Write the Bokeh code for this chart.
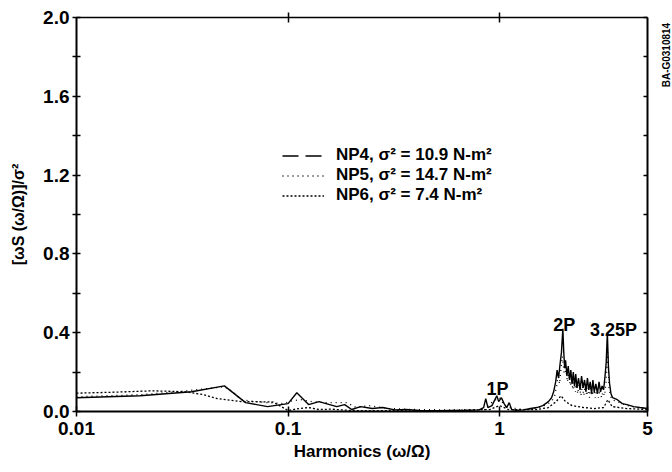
from math import pi

from bokeh.embed import file_html
from bokeh.layouts import row
from bokeh.models import (FixedTicker, Label, Legend, LegendItem, LinearAxis,
                          LogAxis, PrintfTickFormatter)
from bokeh.plotting import figure
from bokeh.resources import INLINE

# ---- spectra: normalised harmonic content vs. frequency ratio ----
np4_x = [0.01, 0.02, 0.035, 0.05, 0.063, 0.08, 0.1, 0.11, 0.125, 0.14, 0.17,
         0.185, 0.2, 0.22, 0.25, 0.28, 0.32, 0.36, 0.42, 0.5, 0.6, 0.7, 0.8,
         0.84, 0.86, 0.88, 0.92, 0.95, 0.97, 0.99, 1.02, 1.05, 1.08, 1.11,
         1.14, 1.2, 1.3, 1.4, 1.5, 1.6, 1.7, 1.76,
         1.80, 1.84, 1.87, 1.90, 1.93, 1.96, 1.99, 2.01, 2.03, 2.05, 2.08,
         2.11, 2.14, 2.17, 2.20, 2.23, 2.26, 2.29, 2.32, 2.36, 2.40, 2.44,
         2.48, 2.52, 2.56, 2.60, 2.64, 2.68, 2.72, 2.76, 2.80, 2.85, 2.90,
         2.95, 3.00, 3.05, 3.10, 3.15, 3.19, 3.23, 3.27, 3.31, 3.36, 3.42,
         3.6, 3.8, 4.0, 4.3, 4.6, 5.0]
np4_y = [0.07, 0.08, 0.10, 0.13, 0.045, 0.025, 0.04, 0.095, 0.035, 0.05, 0.025,
         0.035, 0.01, 0.025, 0.015, 0.02, 0.008, 0.01, 0.005, 0.004, 0.005, 0.006, 0.008,
         0.02, 0.065, 0.02, 0.03, 0.06, 0.08, 0.05, 0.07, 0.04, 0.02, 0.045,
         0.01, 0.006, 0.008, 0.015, 0.02, 0.03, 0.05, 0.07,
         0.10, 0.15, 0.21, 0.17, 0.24, 0.30, 0.42, 0.30, 0.22, 0.26, 0.18,
         0.23, 0.16, 0.21, 0.14, 0.20, 0.13, 0.19, 0.12, 0.17, 0.11, 0.18,
         0.12, 0.16, 0.10, 0.17, 0.11, 0.15, 0.09, 0.16, 0.10, 0.14, 0.09,
         0.15, 0.10, 0.13, 0.11, 0.18, 0.25, 0.40, 0.22, 0.14, 0.09, 0.07,
         0.06, 0.04, 0.035, 0.025, 0.02, 0.015]

np5_x = [0.01, 0.02, 0.03, 0.04, 0.05, 0.055, 0.06, 0.07, 0.08, 0.095, 0.105,
         0.115, 0.13, 0.15, 0.17, 0.19, 0.21, 0.24, 0.3, 0.4, 0.6, 0.85, 0.9,
         0.96, 1.0, 1.05, 1.1, 1.3, 1.5, 1.7, 1.78,
         1.82, 1.86, 1.89, 1.92, 1.95, 1.98, 2.02, 2.06, 2.09, 2.12, 2.16,
         2.19, 2.22, 2.25, 2.28, 2.31, 2.34, 2.38, 2.42, 2.46, 2.50, 2.54,
         2.58, 2.62, 2.66, 2.70, 2.74, 2.78, 2.83, 2.88, 2.93, 2.98, 3.03,
         3.08, 3.13, 3.18, 3.21, 3.25, 3.29, 3.34, 3.40, 3.6, 4.0, 4.5, 5.0]
np5_y = [0.075, 0.085, 0.10, 0.115, 0.125, 0.10, 0.06, 0.05, 0.045, 0.04, 0.055,
         0.06, 0.05, 0.045, 0.045, 0.045, 0.02, 0.03, 0.015, 0.01, 0.008, 0.01, 0.04,
         0.06, 0.07, 0.03, 0.02, 0.01, 0.015, 0.04, 0.06,
         0.08, 0.13, 0.19, 0.14, 0.22, 0.28, 0.19, 0.21, 0.15, 0.19, 0.13,
         0.17, 0.11, 0.16, 0.10, 0.15, 0.09, 0.14, 0.08, 0.13, 0.08, 0.14,
         0.08, 0.12, 0.07, 0.13, 0.08, 0.12, 0.07, 0.12, 0.07, 0.11, 0.07,
         0.10, 0.08, 0.14, 0.22, 0.30, 0.12, 0.08, 0.06, 0.05, 0.03, 0.02, 0.015]

np6_x = [0.01, 0.015, 0.023, 0.033, 0.04, 0.046, 0.06, 0.07, 0.085, 0.1, 0.11,
         0.125, 0.14, 0.16, 0.18, 0.2, 0.3, 0.5, 0.9, 1.0, 1.1, 1.5, 1.7,
         1.85, 1.95, 2.05, 2.2, 2.5, 2.8, 3.1, 3.25, 3.4, 4.0, 5.0]
np6_y = [0.093, 0.098, 0.105, 0.10, 0.085, 0.066, 0.05, 0.05, 0.048, 0.005, 0.013,
         0.02, 0.01, 0.012, 0.008, 0.005, 0.004, 0.003, 0.01, 0.03, 0.01, 0.01, 0.02,
         0.05, 0.08, 0.05, 0.03, 0.02, 0.015, 0.02, 0.06, 0.025, 0.015, 0.01]

series_labels = ["NP4, σ² = 10.9 N-m²", "NP5, σ² = 14.7 N-m²", "NP6, σ² = 7.4 N-m²"]

x_ticks = [0.01, 0.1, 1, 5]
x_tick_labels = ["0.01", "0.1", "1", "5"]
y_ticks = [0.0, 0.4, 0.8, 1.2, 1.6, 2.0]
y_minor_ticks = [0.2, 0.6, 1.0, 1.4, 1.8]
y_all_ticks = [0.0, 0.2, 0.4, 0.6, 0.8, 1.0, 1.2, 1.4, 1.6, 1.8, 2.0]

peak_names = ["1P", "2P", "3.25P"]
peak_x = [0.976, 2.02, 3.45]
peak_y = [0.112, 0.437, 0.416]

FONT = "Liberation Sans"

p = figure(width=657, height=472, x_axis_type="log", x_range=(0.01, 5), y_range=(0, 2),
           output_backend="svg", toolbar_location=None,
           min_border_left=76, min_border_right=10, min_border_top=17, min_border_bottom=61)
p.grid.visible = False
p.outline_line_color = None
p.background_fill_color = "white"
p.border_fill_color = "white"

# bottom axis
xa = p.xaxis[0]
xa.ticker = FixedTicker(ticks=x_ticks, minor_ticks=[])
xa.major_label_overrides = dict(zip(x_ticks, x_tick_labels))
xa.axis_line_width = 2
xa.major_tick_in = 5
xa.major_tick_out = 5
xa.major_tick_line_width = 1.5
xa.minor_tick_line_color = None
xa.major_label_standoff = 5
xa.major_label_text_font = FONT
xa.major_label_text_font_style = "bold"
xa.major_label_text_font_size = "19px"
xa.major_label_text_color = "black"
xa.axis_label = "Harmonics (ω/Ω)"
xa.axis_label_standoff = 4
xa.axis_label_text_font = FONT
xa.axis_label_text_font_style = "bold"
xa.axis_label_text_font_size = "17px"
xa.axis_label_text_color = "black"

# left axis
ya = p.yaxis[0]
ya.ticker = FixedTicker(ticks=y_ticks, minor_ticks=y_minor_ticks)
ya.formatter = PrintfTickFormatter(format="%.1f")
ya.axis_line_width = 2
ya.major_tick_in = 4
ya.major_tick_out = 4
ya.minor_tick_in = 4
ya.minor_tick_out = 4
ya.major_tick_line_width = 1.5
ya.minor_tick_line_width = 1.5
ya.major_label_standoff = 3
ya.major_label_text_font = FONT
ya.major_label_text_font_style = "bold"
ya.major_label_text_font_size = "19px"
ya.major_label_text_color = "black"
ya.axis_label = "[ωS (ω/Ω)]/σ²"
ya.axis_label_standoff = 13
ya.axis_label_text_font = FONT
ya.axis_label_text_font_style = "bold"
ya.axis_label_text_font_size = "16px"
ya.axis_label_text_color = "black"

# top and right frame axes (ticks only)
top = LogAxis(ticker=FixedTicker(ticks=[0.1, 1], minor_ticks=[]),
              axis_line_width=1.5, major_tick_in=5, major_tick_out=5,
              major_tick_line_width=1.5, minor_tick_line_color=None,
              major_label_standoff=0,
              major_label_text_color=None, major_label_text_font_size="1px")
p.add_layout(top, "above")
right = LinearAxis(ticker=FixedTicker(ticks=y_all_ticks, minor_ticks=[]),
                   axis_line_width=2, major_tick_in=4, major_tick_out=0,
                   major_tick_line_width=1.5, minor_tick_line_color=None,
                   major_label_standoff=0,
                   major_label_text_color=None, major_label_text_font_size="1px")
p.add_layout(right, "right")

# spectra
r4 = p.line(np4_x, np4_y, line_color="black", line_width=1.4)
r5 = p.line(np5_x, np5_y, line_color="black", line_width=1.3, line_dash="1 4")
r6 = p.line(np6_x, np6_y, line_color="black", line_width=1.3, line_dash="2 2")

# long-dash key for NP4 (no points of its own)
k4 = p.line([float("nan")], [float("nan")], line_color="black", line_width=1.5,
            line_dash="16 7")
legend = Legend(items=[LegendItem(label=series_labels[0], renderers=[k4]),
                       LegendItem(label=series_labels[1], renderers=[r5]),
                       LegendItem(label=series_labels[2], renderers=[r6])],
                location=(206, 206), padding=0, margin=0, spacing=0,
                glyph_width=42, glyph_height=19, label_height=19, label_standoff=12,
                label_text_font=FONT, label_text_font_style="bold",
                label_text_font_size="17px", label_text_color="black",
                border_line_color=None, background_fill_alpha=0)
p.add_layout(legend)

# harmonic annotations
for name, xv, yv in zip(peak_names, peak_x, peak_y):
    p.add_layout(Label(x=xv, y=yv, text=name, text_align="center", text_baseline="alphabetic",
                       text_color="black", text_font=FONT, text_font_style="bold",
                       text_font_size="18px"))

# narrow strip on the right carrying the figure id
side = figure(width=15, height=472, x_range=(0, 15), y_range=(0, 472),
              output_backend="svg", toolbar_location=None,
              x_axis_location=None, y_axis_location=None, min_border=0)
side.grid.visible = False
side.outline_line_color = None
side.border_fill_color = "white"
side.add_layout(Label(x=9, y=427, angle=pi / 2, text="BA-G0310814",
                      text_align="center", text_baseline="middle", text_color="black",
                      text_font=FONT, text_font_style="bold", text_font_size="10px"))

layout = row(p, side, spacing=0)
open("out.html", "w").write(file_html(layout, INLINE))
